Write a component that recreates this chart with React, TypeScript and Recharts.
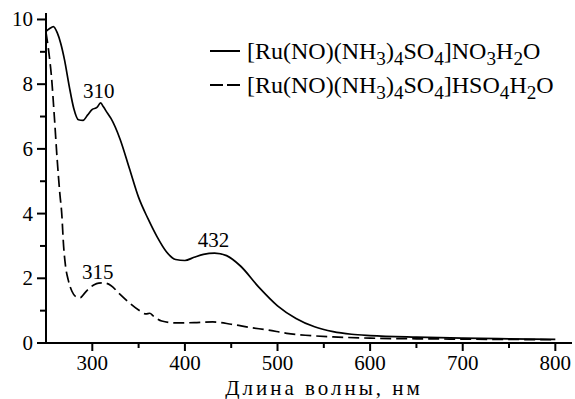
import React from "react";
import {
  LineChart,
  Line,
  XAxis,
  YAxis,
  ReferenceDot,
} from "recharts";

// wavelengths (nm) and absorbance for [Ru(NO)(NH3)4SO4]NO3H2O
const solidX = [250, 254, 258, 262, 266, 270, 275, 280, 285, 290, 295, 300, 305, 309, 312, 316, 320, 330, 340, 350, 360, 370, 380, 390, 400, 410, 420, 432, 445, 460, 480, 500, 520, 540, 560, 580, 600, 650, 700, 750, 800];
const solidY = [9.63, 9.72, 9.78, 9.6, 9.25, 8.75, 7.95, 7.25, 6.9, 6.88, 7.05, 7.22, 7.28, 7.42, 7.3, 7.12, 6.95, 6.3, 5.4, 4.5, 3.85, 3.28, 2.82, 2.58, 2.55, 2.65, 2.74, 2.78, 2.7, 2.38, 1.72, 1.15, 0.76, 0.5, 0.35, 0.27, 0.23, 0.18, 0.15, 0.13, 0.11];

// [Ru(NO)(NH3)4SO4]HSO4H2O
const dashedX = [250, 253, 256, 259, 262, 265, 267, 269, 271, 274, 278, 283, 287, 292, 297, 302, 307, 312, 320, 330, 340, 350, 358, 362, 366, 375, 390, 410, 430, 450, 470, 490, 510, 530, 560, 600, 650, 700, 750, 800];
const dashedY = [9.6, 9.0, 8.2, 7.0, 5.7, 4.6, 4.0, 3.0, 2.4, 1.95, 1.6, 1.42, 1.4, 1.55, 1.7, 1.8, 1.85, 1.86, 1.78, 1.5, 1.24, 1.02, 0.9, 0.92, 0.83, 0.68, 0.62, 0.63, 0.65, 0.58, 0.48, 0.4, 0.3, 0.24, 0.19, 0.15, 0.13, 0.12, 0.11, 0.1];

const xTicks = [300, 350, 400, 450, 500, 550, 600, 650, 700, 750, 800];
const yTicks = [0, 1, 2, 3, 4, 5, 6, 7, 8, 9, 10];

const peaks = [
  { x: 307, y: 7.8, label: "310" },
  { x: 431, y: 3.19, label: "432" },
  { x: 306, y: 2.2, label: "315" },
];

const solidData = solidX.map((x, i) => ({ x, y: solidY[i] }));
const dashedData = dashedX.map((x, i) => ({ x, y: dashedY[i] }));

const FONT = "Liberation Serif";

function XTick({ x, y, payload }: any) {
  const major = payload.value % 100 === 0;
  return (
    <g>
      <line x1={x} x2={x} y1={y} y2={y + (major ? 8 : 5)} stroke="#000" strokeWidth={2} />
      {major && (
        <text x={x} y={y + 20} textAnchor="middle" dominantBaseline="central" fontFamily={FONT} fontSize={21} fill="#000">
          {payload.value}
        </text>
      )}
    </g>
  );
}

function YTick({ x, y, payload }: any) {
  const major = payload.value % 2 === 0;
  return (
    <g>
      <line x1={x} x2={x - (major ? 9 : 6)} y1={y} y2={y} stroke="#000" strokeWidth={2} />
      {major && (
        <text x={x - 13} y={y} textAnchor="end" dominantBaseline="central" fontFamily={FONT} fontSize={21} fill="#000">
          {payload.value}
        </text>
      )}
    </g>
  );
}

function LegendBox() {
  const row = { display: "flex", alignItems: "center", height: 34 } as const;
  const txt = { fontFamily: FONT, fontSize: 24, color: "#000", whiteSpace: "nowrap" } as const;
  const sub = { fontSize: "0.8em", verticalAlign: "-0.3em", lineHeight: 0 } as const;
  return (
    <div style={{ position: "absolute", left: 206, top: 34 }}>
      <div style={row}>
        <svg width={41} height={10}><line x1={4} x2={34} y1={5} y2={5} stroke="#000" strokeWidth={2} /></svg>
        <span style={txt}>
          [Ru(NO)(NH<span style={sub}>3</span>)<span style={sub}>4</span>SO<span style={sub}>4</span>]NO<span style={sub}>3</span>H<span style={sub}>2</span>O
        </span>
      </div>
      <div style={row}>
        <svg width={41} height={10}><line x1={4} x2={34} y1={5} y2={5} stroke="#000" strokeWidth={2} strokeDasharray="13 4" /></svg>
        <span style={txt}>
          [Ru(NO)(NH<span style={sub}>3</span>)<span style={sub}>4</span>SO<span style={sub}>4</span>]HSO<span style={sub}>4</span>H<span style={sub}>2</span>O
        </span>
      </div>
    </div>
  );
}

export default function App() {
  return (
    <div style={{ position: "absolute", left: 0, top: 0, width: 575, height: 399, background: "#fff" }}>
      <LineChart width={575} height={399} margin={{ top: 13, right: 3, left: 0, bottom: 0 }}>
        <XAxis
          type="number"
          dataKey="x"
          domain={[250, 818]}
          ticks={xTicks}
          interval={0}
          allowDataOverflow
          height={56}
          tickSize={0}
          tickMargin={0}
          tick={<XTick />}
          axisLine={{ stroke: "#000", strokeWidth: 2 }}
          label={{ value: "Длина волны, нм", position: "insideBottom", offset: 4, dx: 15, fontFamily: FONT, fontSize: 21, letterSpacing: 3, fill: "#000" }}
        />
        <YAxis
          type="number"
          domain={[0, 10.2]}
          ticks={yTicks}
          interval={0}
          allowDataOverflow
          width={46}
          tickSize={0}
          tickMargin={0}
          tick={<YTick />}
          axisLine={{ stroke: "#000", strokeWidth: 2 }}
        />
        <Line data={solidData} dataKey="y" type="monotone" stroke="#000" strokeWidth={1.7} dot={false} isAnimationActive={false} />
        <Line data={dashedData} dataKey="y" type="monotone" stroke="#000" strokeWidth={1.7} strokeDasharray="11 5" dot={false} isAnimationActive={false} />
        {peaks.map((p) => (
          <ReferenceDot
            key={p.label}
            x={p.x}
            y={p.y}
            r={0}
            stroke="none"
            fill="none"
            label={{ value: p.label, position: "center", fontFamily: FONT, fontSize: 21, fill: "#000" }}
          />
        ))}
      </LineChart>
      <LegendBox />
    </div>
  );
}
